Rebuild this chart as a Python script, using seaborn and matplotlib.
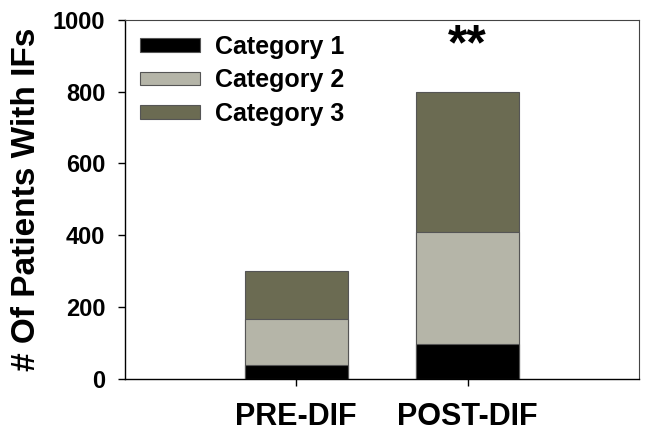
import pandas as pd
import seaborn as sns
import matplotlib.pyplot as plt
from matplotlib.patches import Patch

# values
groups = ["PRE-DIF", "POST-DIF"]
category_1 = [38, 96]
category_2 = [128, 312]
category_3 = [135, 392]
series_names = ["Category 1", "Category 2", "Category 3"]
colors = ["#000000", "#b5b5a8", "#6b6b52"]

df = pd.DataFrame({"group": groups, "c1": category_1, "c2": category_2, "c3": category_3})
df["top1"] = df["c1"]
df["top2"] = df["c1"] + df["c2"]
df["top3"] = df["top2"] + df["c3"]

sns.set_style("white")
plt.rcParams["font.family"] = ["Liberation Sans", "DejaVu Sans"]
plt.rcParams["font.weight"] = "bold"
plt.rcParams["text.color"] = "black"
plt.rcParams["axes.labelcolor"] = "black"
plt.rcParams["xtick.color"] = "black"
plt.rcParams["ytick.color"] = "black"

fig = plt.figure(figsize=(6.5, 4.4), dpi=100)
ax = fig.add_axes([0.192, 0.139, 0.791, 0.816])

# stacked bars: draw cumulative totals back to front
for col, c in zip(["top3", "top2", "top1"], colors[::-1]):
    sns.barplot(data=df, x="group", y=col, color=c, width=0.6,
                edgecolor="#555555", linewidth=0.8, saturation=1, ax=ax)

ax.set_xlim(-1, 2)
ax.set_ylim(0, 1000)
ax.set_yticks([0, 200, 400, 600, 800, 1000])
ax.set_xlabel("")
ax.set_ylabel("# Of Patients With IFs", fontsize=24, fontweight="bold", labelpad=8)
ax.tick_params(axis="y", labelsize=17, direction="out", length=5, width=1, left=True, pad=9)
ax.tick_params(axis="x", labelsize=22, direction="out", length=5, width=1,
               bottom=True, pad=12)
for t in ax.xaxis.get_ticklines():
    t.set_color("#666666")
for lab in ax.get_xticklabels() + ax.get_yticklabels():
    lab.set_fontweight("bold")
for s in ["left", "bottom"]:
    ax.spines[s].set_color("black")
    ax.spines[s].set_linewidth(1)
for s in ["top", "right"]:
    ax.spines[s].set_color("#444444")
    ax.spines[s].set_linewidth(0.8)

ax.text(1, 925, "**", ha="center", va="center", fontsize=36, fontweight="bold")

handles = [Patch(facecolor=c, edgecolor="#555555", linewidth=0.8) for c in colors]
ax.legend(handles, series_names, loc="upper left", frameon=False,
          handlelength=2.4, handleheight=0.45, handletextpad=0.6, labelspacing=0.38,
          borderaxespad=0.2, borderpad=0.4, prop={"weight": "bold", "size": 18})

fig.savefig("out.png", dpi=100)
